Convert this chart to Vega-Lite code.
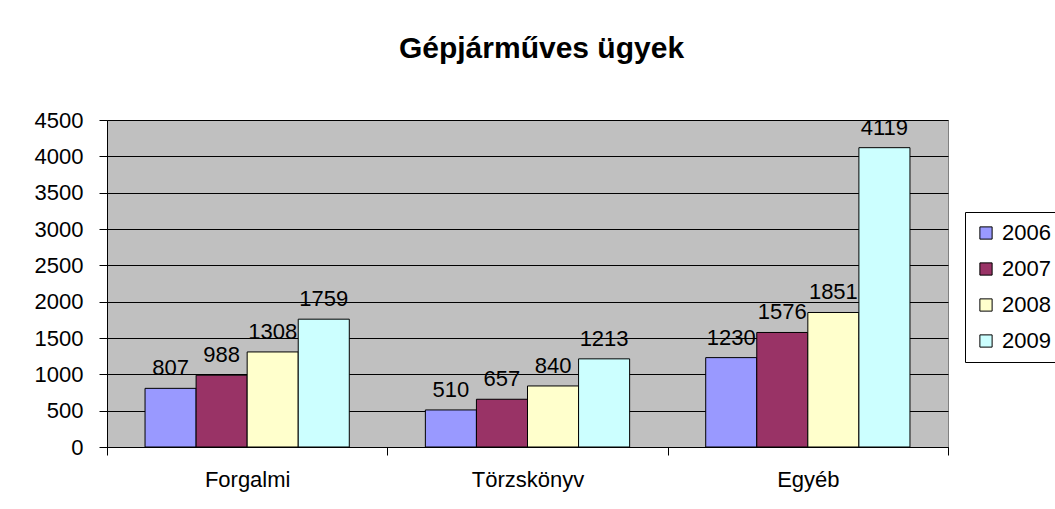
{
  "$schema": "https://vega.github.io/schema/vega-lite/v6.json",
  "width": 841,
  "height": 327,
  "autosize": {"type": "none"},
  "padding": {"left": 107, "top": 120, "right": 107, "bottom": 62},
  "background": "white",
  "title": {
    "text": "Gépjárműves ügyek",
    "font": "Liberation Sans",
    "fontSize": 30,
    "fontWeight": "bold",
    "color": "black",
    "anchor": "middle",
    "baseline": "alphabetic",
    "dx": 14,
    "offset": 21
  },
  "data": {
    "values": [
      {"kategoria": "Forgalmi", "ev": "2006", "ertek": 807},
      {"kategoria": "Forgalmi", "ev": "2007", "ertek": 988},
      {"kategoria": "Forgalmi", "ev": "2008", "ertek": 1308},
      {"kategoria": "Forgalmi", "ev": "2009", "ertek": 1759},
      {"kategoria": "Törzskönyv", "ev": "2006", "ertek": 510},
      {"kategoria": "Törzskönyv", "ev": "2007", "ertek": 657},
      {"kategoria": "Törzskönyv", "ev": "2008", "ertek": 840},
      {"kategoria": "Törzskönyv", "ev": "2009", "ertek": 1213},
      {"kategoria": "Egyéb", "ev": "2006", "ertek": 1230},
      {"kategoria": "Egyéb", "ev": "2007", "ertek": 1576},
      {"kategoria": "Egyéb", "ev": "2008", "ertek": 1851},
      {"kategoria": "Egyéb", "ev": "2009", "ertek": 4119}
    ]
  },
  "encoding": {
    "x": {
      "field": "kategoria",
      "type": "nominal",
      "sort": ["Forgalmi", "Törzskönyv", "Egyéb"],
      "scale": {"paddingInner": 0, "paddingOuter": 0},
      "axis": {
        "title": null,
        "labelAngle": 0,
        "tickBand": "extent",
        "tickSize": 8,
        "tickColor": "black",
        "domainColor": "black",
        "labelFontSize": 22,
        "labelFont": "Liberation Sans",
        "labelColor": "black",
        "labelPadding": 14,
        "grid": false
      }
    },
    "xOffset": {
      "field": "ev",
      "type": "nominal",
      "scale": {"paddingInner": 0, "paddingOuter": 0.745}
    },
    "y": {
      "field": "ertek",
      "type": "quantitative",
      "scale": {"domain": [0, 4500], "nice": false},
      "axis": {
        "title": null,
        "format": "d",
        "values": [0, 500, 1000, 1500, 2000, 2500, 3000, 3500, 4000, 4500],
        "tickSize": 8,
        "tickColor": "black",
        "domainColor": "black",
        "gridColor": "black",
        "gridOpacity": 1,
        "labelFontSize": 22,
        "labelFont": "Liberation Sans",
        "labelColor": "black",
        "labelPadding": 16
      }
    }
  },
  "layer": [
    {
      "mark": {"type": "bar", "stroke": "black", "strokeWidth": 1},
      "encoding": {
        "color": {
          "field": "ev",
          "type": "nominal",
          "scale": {
            "domain": ["2006", "2007", "2008", "2009"],
            "range": ["#9999FF", "#993366", "#FFFFCC", "#CCFFFF"]
          },
          "legend": {
            "orient": "none",
            "legendX": 858,
            "legendY": 92,
            "title": null,
            "strokeColor": "black",
            "fillColor": "white",
            "padding": 10,
            "symbolType": "square",
            "symbolSize": 150,
            "symbolStrokeColor": "black",
            "symbolStrokeWidth": 1,
            "symbolOpacity": 1,
            "labelFontSize": 22,
            "labelFont": "Liberation Sans",
            "labelColor": "black",
            "labelOffset": 5,
            "rowPadding": 14
          }
        }
      }
    },
    {
      "mark": {
        "type": "text",
        "baseline": "alphabetic",
        "dy": -13,
        "fontSize": 22,
        "font": "Liberation Sans",
        "color": "black"
      },
      "encoding": {"text": {"field": "ertek", "type": "quantitative"}}
    }
  ],
  "config": {
    "font": "Liberation Sans",
    "view": {"fill": "#C0C0C0", "stroke": "#808080"}
  }
}
